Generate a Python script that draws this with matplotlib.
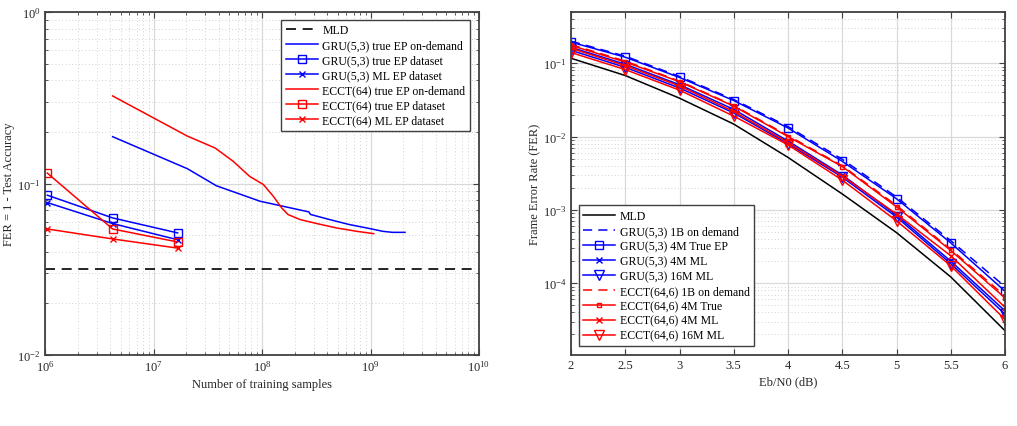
import matplotlib
matplotlib.use("Agg")
import matplotlib.pyplot as plt
import numpy as np
from matplotlib.ticker import LogLocator, NullFormatter, FixedLocator

# ---------------- Left panel data ----------------
mld_left = 0.0317
ds_x = [1.05e6, 4.2e6, 1.67e7]
gru_true_ds = [0.0855, 0.063, 0.0515]
gru_ml_ds = [0.0774, 0.0584, 0.047]
ecct_true_ds = [0.115, 0.0543, 0.0456]
ecct_ml_ds = [0.0543, 0.0475, 0.042]

gru_od_x = [4.2e6, 2.05e7, 3.8e7, 9.6e7, 1.47e8, 2.7e8, 2.8e8, 4.2e8, 6.4e8, 1.0e9, 1.3e9, 1.6e9, 2.08e9]
gru_od_y = [0.1875, 0.122, 0.097, 0.0788, 0.0743, 0.0683, 0.066, 0.0616, 0.0576, 0.0545, 0.0526, 0.0519, 0.0519]

ecct_od_x = [4.2e6, 2.05e7, 3.7e7, 5.4e7, 7.7e7, 1.03e8, 1.27e8, 1.52e8, 1.74e8, 2.25e8, 3.2e8, 4.9e8, 7.5e8, 1.07e9]
ecct_od_y = [0.324, 0.189, 0.161, 0.135, 0.110, 0.0986, 0.0843, 0.072, 0.0659, 0.0616, 0.0584, 0.055, 0.0526, 0.051]

# ---------------- Right panel data ----------------
ebn0 = [2, 2.5, 3, 3.5, 4, 4.5, 5, 5.5, 6]
mld = [0.117, 0.068, 0.0334, 0.0148, 0.0052, 0.00165, 4.9e-4, 1.22e-4, 2.25e-5]
gru_1b = [0.20, 0.125, 0.066, 0.032, 0.0137, 0.0049, 0.00150, 3.8e-4, 9.0e-5]
gru_4m_true = [0.194, 0.121, 0.064, 0.031, 0.0131, 0.0046, 0.00142, 3.55e-4, 7.8e-5]
gru_4m_ml = [0.165, 0.097, 0.051, 0.0235, 0.0087, 0.0030, 8.5e-4, 2.0e-4, 4.2e-5]
gru_16m_ml = [0.150, 0.088, 0.046, 0.021, 0.0080, 0.0028, 8.0e-4, 1.85e-4, 3.8e-5]
ecct_1b = [0.18, 0.107, 0.057, 0.0265, 0.0103, 0.0040, 0.00115, 2.9e-4, 6.7e-5]
ecct_4m_true = [0.175, 0.104, 0.056, 0.026, 0.0100, 0.0039, 0.00110, 2.8e-4, 6.3e-5]
ecct_4m_ml = [0.160, 0.093, 0.049, 0.022, 0.0083, 0.0029, 8.8e-4, 2.37e-4, 4.7e-5]
ecct_16m_ml = [0.140, 0.082, 0.043, 0.019, 0.0077, 0.00255, 7.1e-4, 1.73e-4, 3.2e-5]

plt.rcParams['font.family'] = ['Liberation Serif', 'DejaVu Serif']
plt.rcParams['mathtext.fontset'] = 'stix'
plt.rcParams['font.size'] = 8.5

fig = plt.figure(figsize=(10.17, 4.27), dpi=100)
W, H = 1017, 427
axL = fig.add_axes([45 / W, 1 - 356 / H, 434 / W, 343 / H])
axR = fig.add_axes([571 / W, 1 - 356 / H, 434 / W, 343 / H])

frame_c = '#404040'
text_c = '#262626'

def style(ax):
    for s in ax.spines.values():
        s.set_color(frame_c)
        s.set_linewidth(1.3)
    ax.tick_params(which='both', direction='in', top=True, right=True,
                   colors=frame_c, labelcolor=text_c, labelsize=9)
    ax.tick_params(which='major', length=4, width=0.8, pad=3)
    ax.tick_params(which='minor', length=2.2, width=0.6)
    ax.set_axisbelow(True)

blue = (0, 0, 1)
red = (1, 0, 0)
lw = 1.1

# ---------- Left ----------
ax = axL
ax.set_xscale('log'); ax.set_yscale('log')
ax.axhline(mld_left, color='k', ls=(0, (6, 4)), lw=1.2, label='MLD')
ax.plot(gru_od_x, gru_od_y, color=blue, lw=lw, label='GRU(5,3) true EP on-demand')
ax.plot(ds_x, gru_true_ds, color=blue, lw=lw, marker='s', ms=6, mfc='none', mew=1.0,
        label='GRU(5,3) true EP dataset')
ax.plot(ds_x, gru_ml_ds, color=blue, lw=lw, marker='x', ms=5, mew=1.0,
        label='GRU(5,3) ML EP dataset')
ax.plot(ecct_od_x, ecct_od_y, color=red, lw=lw, label='ECCT(64) true EP on-demand')
ax.plot(ds_x, ecct_true_ds, color=red, lw=lw, marker='s', ms=6, mfc='none', mew=1.0,
        label='ECCT(64) true EP dataset')
ax.plot(ds_x, ecct_ml_ds, color=red, lw=lw, marker='x', ms=5, mew=1.0,
        label='ECCT(64) ML EP dataset')
ax.set_xlim(1e6, 1e10)
ax.set_ylim(1e-2, 1e0)
ax.xaxis.set_major_locator(LogLocator(base=10, numticks=10))
ax.xaxis.set_minor_locator(LogLocator(base=10, subs=np.arange(2, 10), numticks=100))
ax.yaxis.set_minor_locator(LogLocator(base=10, subs=np.arange(2, 10), numticks=100))
ax.xaxis.set_minor_formatter(NullFormatter())
ax.yaxis.set_minor_formatter(NullFormatter())
ax.grid(True, which='major', color='#d9d9d9', lw=0.9, ls='-')
ax.grid(True, which='minor', color='#c4c4c4', lw=0.6, ls=(0, (1, 3)))
style(ax)
ax.set_xlabel('Number of training samples', fontsize=9, color=text_c, labelpad=3)
ax.set_ylabel('FER = 1 - Test Accuracy', fontsize=9, color=text_c)
ax.yaxis.set_label_coords(-0.068, 0.5)
leg = ax.legend(loc='upper right', bbox_to_anchor=(0.985, 0.985), fontsize=8.5,
                frameon=True, fancybox=False, framealpha=1, edgecolor=frame_c,
                handlelength=2.7, labelspacing=0.25, borderpad=0.4, handletextpad=0.4,
                borderaxespad=0.2)
leg.get_frame().set_linewidth(1.0)

# ---------- Right ----------
ax = axR
ax.set_yscale('log')
ax.plot(ebn0, mld, color='k', lw=lw, label='MLD')
ax.plot(ebn0, gru_1b, color=blue, lw=lw, ls=(0, (6, 4)), label='GRU(5,3) 1B on demand')
ax.plot(ebn0, gru_4m_true, color=blue, lw=lw, marker='s', ms=6, mfc='none', mew=1.0,
        label='GRU(5,3) 4M True EP')
ax.plot(ebn0, gru_4m_ml, color=blue, lw=lw, marker='x', ms=5, mew=1.0,
        label='GRU(5,3) 4M ML')
ax.plot(ebn0, gru_16m_ml, color=blue, lw=lw, marker='v', ms=7, mfc='none', mew=1.0,
        label='GRU(5,3) 16M ML')
ax.plot(ebn0, ecct_1b, color=red, lw=lw, ls=(0, (6, 4)), label='ECCT(64,6) 1B on demand')
ax.plot(ebn0, ecct_4m_true, color=red, lw=lw, marker='s', ms=3.5, mfc='none', mew=1.0,
        label='ECCT(64,6) 4M True')
ax.plot(ebn0, ecct_4m_ml, color=red, lw=lw, marker='x', ms=5, mew=1.0,
        label='ECCT(64,6) 4M ML')
ax.plot(ebn0, ecct_16m_ml, color=red, lw=lw, marker='v', ms=7, mfc='none', mew=1.0,
        label='ECCT(64,6) 16M ML')
ax.set_xlim(2, 6)
ax.set_ylim(1.05e-5, 0.5)
ax.xaxis.set_major_locator(FixedLocator([2, 2.5, 3, 3.5, 4, 4.5, 5, 5.5, 6]))
ax.set_xticklabels(['2', '2.5', '3', '3.5', '4', '4.5', '5', '5.5', '6'])
ax.yaxis.set_major_locator(FixedLocator([1e-4, 1e-3, 1e-2, 1e-1]))
ax.yaxis.set_minor_locator(LogLocator(base=10, subs=np.arange(2, 10), numticks=100))
ax.yaxis.set_minor_formatter(NullFormatter())
ax.grid(True, which='major', color='#d9d9d9', lw=0.9, ls='-')
ax.grid(True, which='minor', axis='y', color='#c4c4c4', lw=0.6, ls=(0, (1, 3)))
style(ax)
ax.set_xlabel('Eb/N0 (dB)', fontsize=9, color=text_c, labelpad=3)
ax.set_ylabel('Frame Error Rate (FER)', fontsize=9, color=text_c)
ax.yaxis.set_label_coords(-0.068, 0.5)
leg = ax.legend(loc='lower left', bbox_to_anchor=(0.012, 0.018), fontsize=8.5,
                frameon=True, fancybox=False, framealpha=1, edgecolor=frame_c,
                handlelength=2.7, labelspacing=0.25, borderpad=0.4, handletextpad=0.4,
                borderaxespad=0.2)
leg.get_frame().set_linewidth(1.0)

fig.savefig('out.png', dpi=100)
